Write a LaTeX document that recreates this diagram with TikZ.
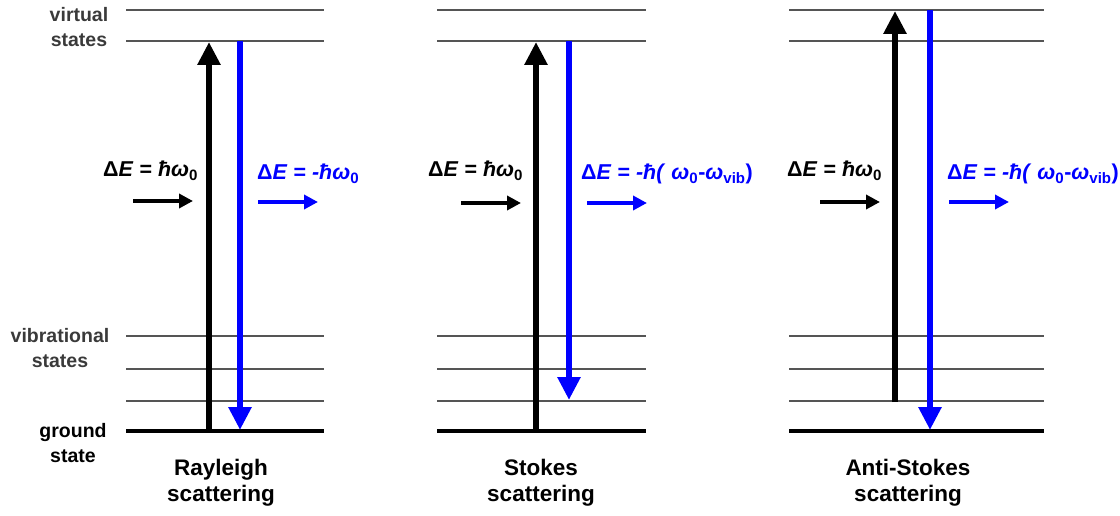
\documentclass[tikz,border=0pt]{standalone}
\usepackage{fontspec}
\setmainfont{Liberation Sans}
\usetikzlibrary{arrows.meta}
\definecolor{lvl}{HTML}{555555}
\definecolor{lbl}{HTML}{3A3A3A}
\definecolor{pblue}{HTML}{0000FF}
\tikzset{
  level/.style={draw=lvl, line width=2pt},
  ground/.style={draw=black, line width=4.5pt},
  bigup/.style={line width=6pt, -{Triangle[width=22pt,length=23pt]}},
  smallarr/.style={line width=4pt, -{Triangle[width=14pt,length=14pt]}},
  sidelbl/.style={font=\fontsize{19.5}{25}\selectfont\bfseries, align=center, inner sep=0pt},
  title/.style={font=\fontsize{22.5}{26}\selectfont\bfseries, align=center, inner sep=0pt},
  eqlbl/.style={font=\fontsize{21.5}{24}\selectfont\bfseries, anchor=base west, inner sep=0pt},
}
\newcommand{\hb}{\textit{ħ}}
\begin{document}
\begin{tikzpicture}[x=1pt,y=-1pt]
\useasboundingbox (0,0) rectangle (1120,516);
% levels
\foreach \xa/\xb/\p in {126/324/a,437/646/b,789/1044/c}{
  \draw[level] (\xa,10.5) -- (\xb,10.5);
  \draw[level] (\xa,41.5) -- (\xb,41.5);
  \draw[level] (\xa,335.5) -- (\xb,335.5);
  \draw[level] (\xa,368.5) -- (\xb,368.5);
  \draw[level] (\xa,400.5) -- (\xb,400.5);
  \draw[ground] (\xa,431) -- (\xb,431);
}
% side labels
\node[sidelbl, text=lbl] (virt) at (79,27) {virtual\\states};
\node[sidelbl, text=lbl] (vib) at (60,348) {vibrational\\states};
\node[sidelbl, text=black] (gnd) at (73,443.5) {ground\\state};
% panel 1 Rayleigh
\coordinate (a1) at (209,429);
\coordinate (a2) at (209,42);
\coordinate (a3) at (240,41);
\coordinate (a4) at (240,430);
\draw[bigup, black] (a1) -- (a2);
\draw[bigup, pblue] (a3) -- (a4);
\node[eqlbl] (ea) at (103,177) {Δ\textit{E} = \hb\textit{ω}\textsubscript{0}};
\node[eqlbl, text=pblue] (eab) at (257,180) {Δ\textit{E} = \textit{-}\hb\textit{ω}\textsubscript{0}};
\coordinate (sa1) at (133,201); \coordinate (sa2) at (193,201);
\coordinate (sb1) at (258,202); \coordinate (sb2) at (318,202);
\draw[smallarr, black] (sa1) -- (sa2);
\draw[smallarr, pblue] (sb1) -- (sb2);
\node[title] (ta) at (221,483) {Rayleigh\\scattering};
% panel 2 Stokes
\coordinate (b1) at (536,429);
\coordinate (b2) at (536,42);
\coordinate (b3) at (569,41);
\coordinate (b4) at (569,400);
\draw[bigup, black] (b1) -- (b2);
\draw[bigup, pblue] (b3) -- (b4);
\node[eqlbl] (eb) at (428,177) {Δ\textit{E} = \hb\textit{ω}\textsubscript{0}};
\node[eqlbl, text=pblue] (ebb) at (581,180) {Δ\textit{E} = \textit{-}\hb\textit{(} \textit{ω}\textsubscript{0}-\textit{ω}\textsubscript{vib})};
\coordinate (sc1) at (461,203); \coordinate (sc2) at (521,203);
\coordinate (sd1) at (587,203); \coordinate (sd2) at (647,203);
\draw[smallarr, black] (sc1) -- (sc2);
\draw[smallarr, pblue] (sd1) -- (sd2);
\node[title] (tb) at (541,483) {Stokes\\scattering};
% panel 3 Anti-Stokes
\coordinate (c1) at (895,402);
\coordinate (c2) at (895,11);
\coordinate (c3) at (930,10);
\coordinate (c4) at (930,430);
\draw[bigup, black] (c1) -- (c2);
\draw[bigup, pblue] (c3) -- (c4);
\node[eqlbl] (ec) at (787,177) {Δ\textit{E} = \hb\textit{ω}\textsubscript{0}};
\node[eqlbl, text=pblue] (ecb) at (947,180) {Δ\textit{E} = \textit{-}\hb\textit{(} \textit{ω}\textsubscript{0}-\textit{ω}\textsubscript{vib})};
\coordinate (se1) at (820,202); \coordinate (se2) at (880,202);
\coordinate (sf1) at (949,202); \coordinate (sf2) at (1009,202);
\draw[smallarr, black] (se1) -- (se2);
\draw[smallarr, pblue] (sf1) -- (sf2);
\node[title] (tc) at (908,483) {Anti-Stokes\\scattering};
\end{tikzpicture}
\end{document}
